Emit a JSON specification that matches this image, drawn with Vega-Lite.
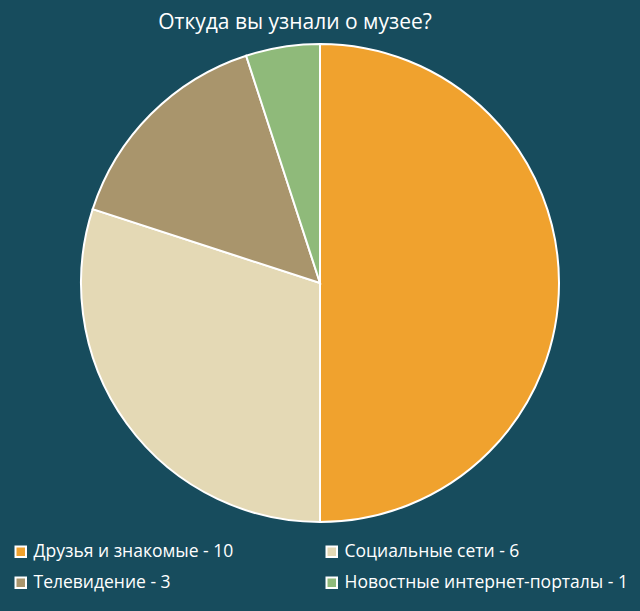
{
  "$schema": "https://vega.github.io/schema/vega-lite/v6.json",
  "autosize": "none",
  "width": 640,
  "height": 566,
  "padding": {"top": 0, "left": 0, "right": 0, "bottom": 45},
  "background": "#174c5d",
  "title": {
    "text": "Откуда вы узнали о музее?",
    "anchor": "middle",
    "dx": -25,
    "offset": -50,
    "baseline": "alphabetic",
    "color": "#ffffff",
    "font": "Open Sans",
    "fontSize": 21,
    "fontWeight": "normal"
  },
  "data": {
    "values": [
      {"source": "Друзья и знакомые - 10", "count": 10, "order": 1},
      {"source": "Социальные сети - 6", "count": 6, "order": 2},
      {"source": "Телевидение - 3", "count": 3, "order": 3},
      {"source": "Новостные интернет-порталы - 1", "count": 1, "order": 4}
    ]
  },
  "mark": {"type": "arc", "outerRadius": 239, "stroke": "#ffffff", "strokeWidth": 2},
  "encoding": {
    "theta": {"field": "count", "type": "quantitative", "stack": true},
    "order": {"field": "order", "type": "quantitative"},
    "color": {
      "field": "source",
      "type": "nominal",
      "scale": {
        "domain": ["Друзья и знакомые - 10", "Социальные сети - 6", "Телевидение - 3", "Новостные интернет-порталы - 1"],
        "range": ["#f0a22e", "#e4d9b5", "#a9956c", "#8fba7a"]
      },
      "legend": {
        "title": null,
        "orient": "none",
        "direction": "horizontal",
        "legendX": 12,
        "legendY": 543,
        "columns": 2,
        "columnPadding": 88,
        "rowPadding": 12,
        "symbolType": "square",
        "symbolSize": 110,
        "symbolStrokeColor": "#ffffff",
        "symbolStrokeWidth": 2,
        "symbolOpacity": 1,
        "labelColor": "#ffffff",
        "labelFont": "Open Sans",
        "labelFontSize": 17.5,
        "labelOffset": 4,
        "labelLimit": 400
      }
    }
  },
  "config": {"view": {"stroke": null}}
}
